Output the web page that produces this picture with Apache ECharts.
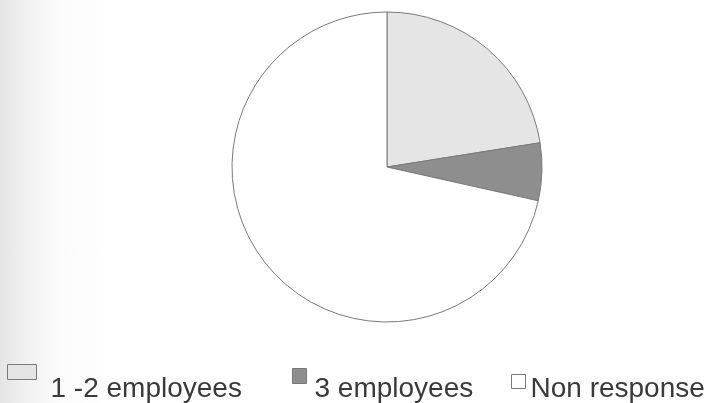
<!DOCTYPE html>
<html>
<head>
<meta charset="utf-8">
<script src="https://cdn.jsdelivr.net/npm/echarts@6/dist/echarts.min.js"></script>
<style>
  html, body { margin: 0; padding: 0; }
  body {
    width: 709px; height: 403px; overflow: hidden;
    background: linear-gradient(to right, #e4e4e4 0px, #f1f1f1 25px, #fbfbfb 60px, #ffffff 110px);
  }
  #chart { width: 709px; height: 403px; }
</style>
</head>
<body>
<div id="chart"></div>
<script>
// Staff size of responding businesses (share of responses, %)
const categories = ['1 -2 employees', '3 employees', 'Non response'];
const shares = [22.5, 6.0, 71.5];
const fills = ['#e5e5e5', '#8e8e8e', '#ffffff'];

const edge = '#7a7a7a';
const font = 'Liberation Sans, Arial, sans-serif';

// Swatch drawn at the top of a taller icon box, so the label sits lower than the swatch
function swatch(w, h, boxH) {
  return 'path://M0,0L' + w + ',0L' + w + ',' + h + 'L0,' + h + 'ZM0,' + boxH;
}

// One legend per entry so each swatch can keep its own size and offset
const legendSpecs = [
  { left: 7,   top: 364, w: 29, h: 15, boxH: 49, padLeft: 9 },
  { left: 292, top: 368, w: 14, h: 15, boxH: 41, padLeft: 3 },
  { left: 511, top: 374, w: 14, h: 14, boxH: 29, padLeft: 0 }
];

const chart = echarts.init(document.getElementById('chart'), null, { renderer: 'canvas' });

chart.setOption({
  animation: false,
  legend: legendSpecs.map((s, i) => ({
    data: [{ name: categories[i], icon: swatch(s.w, s.h, s.boxH),
             itemStyle: { color: fills[i], borderColor: edge, borderWidth: 1 } }],
    left: s.left, top: s.top, padding: 0,
    itemWidth: s.w, itemHeight: s.boxH,
    selectedMode: false,
    textStyle: { fontFamily: font, fontSize: 28, color: '#3a3a3a', padding: [0, 0, 0, s.padLeft] }
  })),
  series: [{
    type: 'pie',
    center: [387, 167],
    radius: 155,
    startAngle: 90,
    clockwise: true,
    label: { show: false },
    labelLine: { show: false },
    emphasis: { disabled: true },
    itemStyle: { borderColor: edge, borderWidth: 1 },
    data: categories.map((c, i) => ({
      name: c, value: shares[i], itemStyle: { color: fills[i] }
    }))
  }]
});
</script>
</body>
</html>
